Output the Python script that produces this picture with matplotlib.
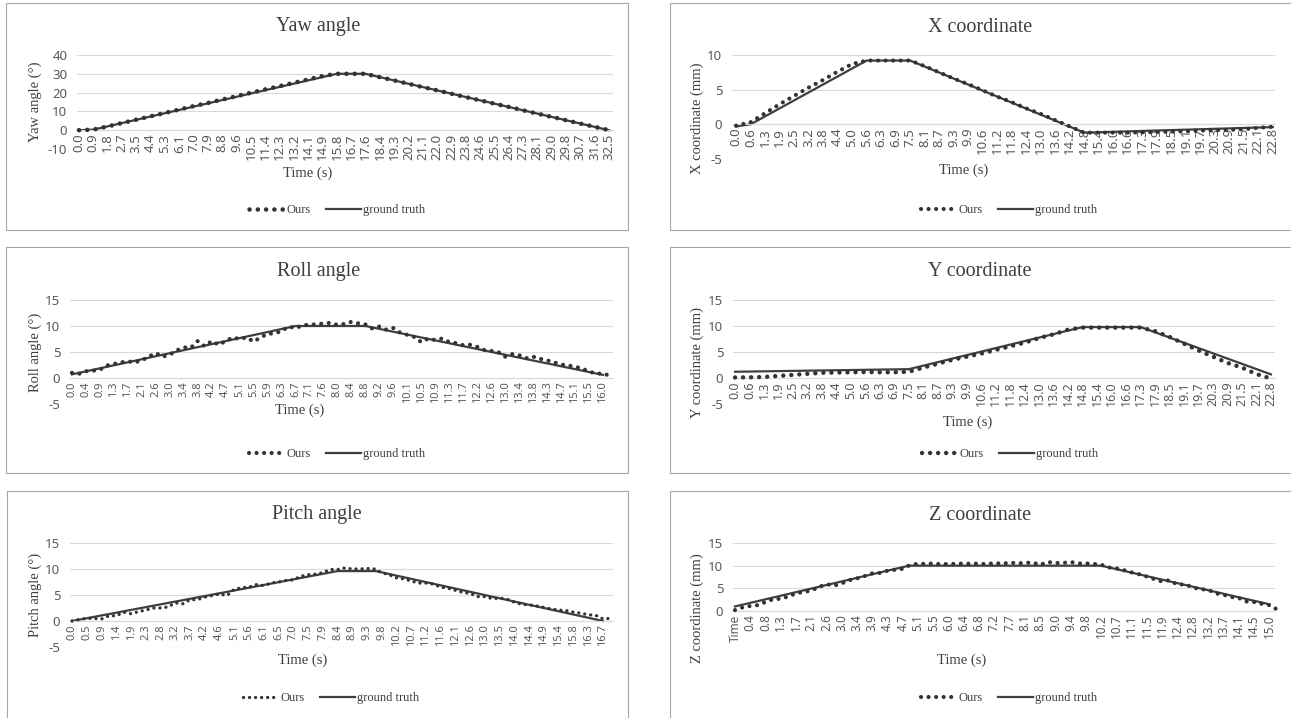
import numpy as np
import matplotlib
matplotlib.use("Agg")
import matplotlib.pyplot as plt
from matplotlib.lines import Line2D
from matplotlib.patches import Rectangle

plt.rcParams['axes.unicode_minus'] = False

W, H = 1291, 718
SERIF = 'Liberation Serif'
SANS = 'Noto Sans'
DARK = '#3f3f3f'
GREY = '#595959'
GRID = '#d9d9d9'
DOTS = (0, (0.01, 1.8))

# ---------------- data ----------------
# yaw angle, one value per category
yaw_labels = ("0.0 0.9 1.8 2.7 3.5 4.4 5.3 6.1 7.0 7.9 8.8 9.6 10.5 11.4 12.3 13.2 14.1 14.9 15.8 "
              "16.7 17.6 18.4 19.3 20.2 21.1 22.0 22.9 23.8 24.6 25.5 26.4 27.3 28.1 29.0 29.8 30.7 31.6 32.5").split()
yaw_ours = [0.0, 0.3, 2.0, 3.8, 5.6, 7.4, 9.2, 11.0, 12.8, 14.5, 16.3, 18.1, 19.9, 21.7, 23.4, 25.2,
            27.0, 28.8, 30.0, 30.0, 30.0, 28.2, 26.5, 24.7, 22.9, 21.2, 19.4, 17.6, 15.9, 14.1, 12.4,
            10.6, 8.8, 7.1, 5.3, 3.5, 1.8, 0.0]
yaw_gt_x = [0, 1, 18, 20, 37]
yaw_gt_y = [0.0, 0.3, 30.0, 30.0, 0.0]

# X coordinate
xy_labels = ("0.0 0.6 1.3 1.9 2.5 3.2 3.8 4.4 5.0 5.6 6.3 6.9 7.5 8.1 8.7 9.3 9.9 10.6 11.2 11.8 12.4 "
             "13.0 13.6 14.2 14.8 15.4 16.0 16.6 17.3 17.9 18.5 19.1 19.7 20.3 20.9 21.5 22.1 22.8").split()
x_ours = [-0.2, 0.3, 1.6, 2.9, 4.1, 5.3, 6.4, 7.6, 8.7, 9.2, 9.2, 9.2, 9.2, 8.4, 7.5, 6.6, 5.8, 4.9,
          4.0, 3.2, 2.3, 1.5, 0.6, -0.3, -1.2, -1.2, -1.2, -1.2, -1.15, -1.1, -1.05, -1.0, -0.9,
          -0.85, -0.8, -0.7, -0.5, -0.35]
x_gt_x = [0, 1, 9, 12, 24, 37]
x_gt_y = [-0.3, 0.0, 9.2, 9.2, -1.2, -0.4]

# Y coordinate
y_ours = [0.1, 0.13, 0.2, 0.4, 0.6, 0.8, 1.0, 1.05, 1.1, 1.15, 1.1, 1.1, 1.2, 2.0, 2.75, 3.5, 4.1,
          4.7, 5.4, 6.1, 6.8, 7.7, 8.4, 9.3, 9.7, 9.7, 9.7, 9.7, 9.7, 9.0, 7.9, 6.6, 5.3, 4.1, 2.9,
          2.0, 0.75, -0.1]
y_gt_x = [0, 12, 24, 28, 37]
y_gt_y = [1.2, 1.7, 9.8, 9.8, 0.7]

# roll angle, two values per category
roll_labels = ("0.0 0.4 0.9 1.3 1.7 2.1 2.6 3.0 3.4 3.8 4.2 4.7 5.1 5.5 5.9 6.3 6.7 7.1 7.6 8.0 8.4 "
               "8.8 9.2 9.6 10.1 10.5 10.9 11.3 11.7 12.2 12.6 13.0 13.4 13.8 14.3 14.7 15.1 15.5 16.0").split()
roll_ours = [1.0, 0.8, 1.3, 1.4, 1.6, 2.4, 2.7, 3.0, 3.2, 3.0, 3.4, 4.1, 4.8, 4.1, 4.5, 5.3,
             5.9, 5.8, 7.1, 6.1, 7.1, 6.4, 7.1, 7.8, 7.5, 7.8, 7.0, 7.8, 8.5, 8.6, 9.0, 9.9,
             9.6, 10.1, 10.3, 10.3, 10.5, 10.6, 10.2, 10.4, 10.8, 10.5, 10.3, 9.5, 9.9, 9.3, 9.6, 8.7,
             8.3, 7.9, 6.9, 7.6, 7.3, 7.6, 6.9, 6.7, 6.3, 6.4, 6.0, 5.4, 5.2, 5.0, 4.1, 4.6,
             4.4, 3.8, 4.1, 3.7, 3.4, 3.0, 2.6, 2.4, 2.2, 1.8, 1.3, 0.8, 0.9, 0.4]
roll_gt_x = [0, 16, 21, 38]
roll_gt_y = [0.7, 10.0, 10.0, 0.6]

# pitch angle, two values per category
pitch_labels = ("0.0 0.5 0.9 1.4 1.9 2.3 2.8 3.2 3.7 4.2 4.6 5.1 5.6 6.1 6.5 7.0 7.5 7.9 8.4 8.9 9.3 "
                "9.8 10.2 10.7 11.2 11.6 12.1 12.6 13.0 13.5 14.0 14.4 14.9 15.4 15.8 16.3 16.7").split()
pitch_ours = [0.0, 0.3, 0.5, 0.5, 0.4, 1.0, 1.0, 1.7, 1.4, 1.8, 2.1, 2.5, 2.5, 2.7, 3.5, 3.3,
              4.1, 4.1, 4.6, 4.9, 5.2, 4.9, 6.1, 6.4, 6.5, 7.0, 6.8, 7.3, 7.5, 7.8, 7.9, 8.6,
              8.9, 9.0, 9.3, 9.9, 9.9, 10.2, 10.0, 10.0, 10.1, 10.0, 9.3, 8.9, 8.3, 8.1, 7.7, 7.3,
              7.3, 7.1, 6.5, 6.3, 5.9, 5.5, 5.3, 4.7, 4.7, 4.3, 4.4, 4.2, 3.6, 3.2, 3.1, 2.9,
              2.6, 2.3, 2.1, 2.0, 1.7, 1.5, 1.2, 1.1, 0.4, 0.5]
pitch_gt_x = [0, 18, 20.6, 36]
pitch_gt_y = [0.0, 9.6, 9.6, 0.0]

# Z coordinate, two values per category
z_labels = ("Time 0.4 0.8 1.3 1.7 2.1 2.6 3.0 3.4 3.9 4.3 4.7 5.1 5.5 6.0 6.4 6.8 7.2 7.7 8.1 8.5 "
            "9.0 9.4 9.8 10.2 10.7 11.1 11.5 11.9 12.4 12.8 13.2 13.7 14.1 14.5 15.0").split()
z_ours = [0.2, 0.8, 1.1, 1.3, 2.0, 2.6, 2.7, 3.2, 3.9, 4.2, 4.5, 5.3, 5.9, 5.6, 6.1, 6.8,
          7.2, 7.7, 8.3, 8.4, 8.9, 9.1, 9.3, 10.2, 10.4, 10.4, 10.5, 10.3, 10.4, 10.4, 10.5, 10.4,
          10.5, 10.3, 10.6, 10.4, 10.7, 10.5, 10.6, 10.7, 10.2, 10.8, 10.6, 10.6, 10.8, 10.5, 10.5, 10.4,
          10.2, 9.6, 9.4, 9.0, 8.5, 8.1, 7.6, 7.0, 6.5, 6.8, 5.8, 5.9, 5.2, 4.8, 4.7, 3.9,
          3.6, 3.1, 2.9, 2.1, 2.0, 1.6, 1.3, 0.4]
z_gt_x = [0, 11.4, 24, 35]
z_gt_y = [1.0, 10.0, 10.0, 1.5]

# ---------------- layout (pixels) ----------------
panels = [
    dict(title='Yaw angle', ylabel='Yaw angle (°)', labels=yaw_labels, ours=yaw_ours, step=1.0,
         gt_x=yaw_gt_x, gt_y=yaw_gt_y, yticks=[-10, 0, 10, 20, 30, 40], lw=3.3, xts=9.5,
         frame=(6, 3, 628, 230), plot=(77, 55, 613, 149), xlim=(-0.14, 37.28),
         title_xy=(318, 26), ylabel_xy=(35, 102), xlabel_xy=(308, 173), legend_xy=(337, 210)),
    dict(title='X coordinate', ylabel='X coordinate (mm)', labels=xy_labels, ours=x_ours, step=1.0,
         gt_x=x_gt_x, gt_y=x_gt_y, yticks=[-5, 0, 5, 10], lw=3.0, xts=9.5,
         frame=(670, 3, 1296, 230), plot=(732, 55, 1275, 159), xlim=(-0.28, 37.15),
         title_xy=(980, 27), ylabel_xy=(697, 118), xlabel_xy=(964, 170), legend_xy=(1009, 210)),
    dict(title='Roll angle', ylabel='Roll angle (°)', labels=roll_labels, ours=roll_ours, step=0.5,
         gt_x=roll_gt_x, gt_y=roll_gt_y, yticks=[-5, 0, 5, 10, 15], lw=3.0, xts=8.0,
         frame=(6, 247, 628, 473), plot=(70, 300, 613, 404), xlim=(-0.14, 38.72),
         title_xy=(319, 271), ylabel_xy=(35, 352), xlabel_xy=(300, 410), legend_xy=(337, 454)),
    dict(title='Y coordinate', ylabel='Y coordinate (mm)', labels=xy_labels, ours=y_ours, step=1.0,
         gt_x=y_gt_x, gt_y=y_gt_y, yticks=[-5, 0, 5, 10, 15], lw=3.2, xts=9.0,
         frame=(670, 247, 1296, 473), plot=(733, 300, 1275, 404), xlim=(-0.14, 37.28),
         title_xy=(980, 271), ylabel_xy=(697, 363), xlabel_xy=(968, 422), legend_xy=(1010, 454)),
    dict(title='Pitch angle', ylabel='Pitch angle (°)', labels=pitch_labels, ours=pitch_ours, step=0.5,
         gt_x=pitch_gt_x, gt_y=pitch_gt_y, yticks=[-5, 0, 5, 10, 15], lw=2.4, xts=8.0,
         frame=(7, 491, 628, 725), plot=(70, 543, 613, 647), xlim=(-0.14, 36.68),
         title_xy=(317, 515), ylabel_xy=(35, 595), xlabel_xy=(303, 660), legend_xy=(331, 698)),
    dict(title='Z coordinate', ylabel='Z coordinate (mm)', labels=z_labels, ours=z_ours, step=0.5,
         gt_x=z_gt_x, gt_y=z_gt_y, yticks=[0, 5, 10, 15], lw=3.0, xts=8.5,
         frame=(670, 491, 1296, 725), plot=(733, 543, 1275, 611), xlim=(-0.13, 35.39),
         title_xy=(980, 515), ylabel_xy=(697, 608), xlabel_xy=(962, 660), legend_xy=(1009, 698)),
]

fig = plt.figure(figsize=(W / 100, H / 100), dpi=100)
fig.patch.set_facecolor('white')


def fpos(x, y):
    return x / W, 1 - y / H


def draw_panel(p):
    x0, y0, x1, y1 = p['frame']
    fig.add_artist(Rectangle(fpos(x0, y1), (x1 - x0) / W, (y1 - y0) / H, transform=fig.transFigure,
                             fill=False, ec='#a6a6a6', lw=0.8))

    px0, py0, px1, py1 = p['plot']
    ax = fig.add_axes([px0 / W, 1 - py1 / H, (px1 - px0) / W, (py1 - py0) / H])
    ax.set_facecolor('none')

    ours = np.array(p['ours'])
    t = np.arange(len(ours)) * p['step']
    ax.plot(p['gt_x'], p['gt_y'], color=DARK, lw=1.6, zorder=2)
    ax.plot(t, ours, color='#333333', lw=p['lw'], linestyle=DOTS, dash_capstyle='round',
            clip_on=False, zorder=3)

    ax.set_xlim(*p['xlim'])
    ax.set_ylim(p['yticks'][0], p['yticks'][-1])
    ax.set_yticks(p['yticks'])
    ax.set_xticks(np.arange(len(p['labels'])))
    ax.set_xticklabels(p['labels'])
    ax.yaxis.grid(True, color=GRID, lw=0.8)
    ax.set_axisbelow(True)
    for s in ('top', 'right', 'left'):
        ax.spines[s].set_visible(False)
    ax.spines['bottom'].set_position(('data', 0))
    ax.spines['bottom'].set_color(GRID)
    ax.spines['bottom'].set_linewidth(0.8)
    ax.tick_params(axis='y', length=0, pad=7, labelsize=9.5, labelcolor=GREY)
    ax.tick_params(axis='x', length=0, pad=2.5, labelsize=p['xts'], labelcolor=GREY, labelrotation=90)
    for lab in ax.get_xticklabels() + ax.get_yticklabels():
        lab.set_family(SANS)

    fig.text(*fpos(*p['title_xy']), p['title'], ha='center', va='center',
             family=SERIF, fontsize=14.5, color=DARK)
    fig.text(*fpos(*p['ylabel_xy']), p['ylabel'], ha='center', va='center', rotation=90,
             family=SERIF, fontsize=10.5, color=DARK)
    fig.text(*fpos(*p['xlabel_xy']), 'Time (s)', ha='center', va='center',
             family=SERIF, fontsize=10.5, color=DARK)

    handles = [Line2D([], [], color='#333333', lw=p['lw'], linestyle=DOTS, dash_capstyle='round'),
               Line2D([], [], color=DARK, lw=1.6)]
    fig.legend(handles, ['Ours', 'ground truth'], loc='center', bbox_to_anchor=fpos(*p['legend_xy']),
               ncol=2, frameon=False, prop={'family': SERIF, 'size': 9}, labelcolor=DARK,
               handlelength=2.8, handletextpad=0.2, columnspacing=1.2, borderpad=0)


for p in panels:
    draw_panel(p)

fig.savefig('out.png', dpi=100, facecolor='white')
